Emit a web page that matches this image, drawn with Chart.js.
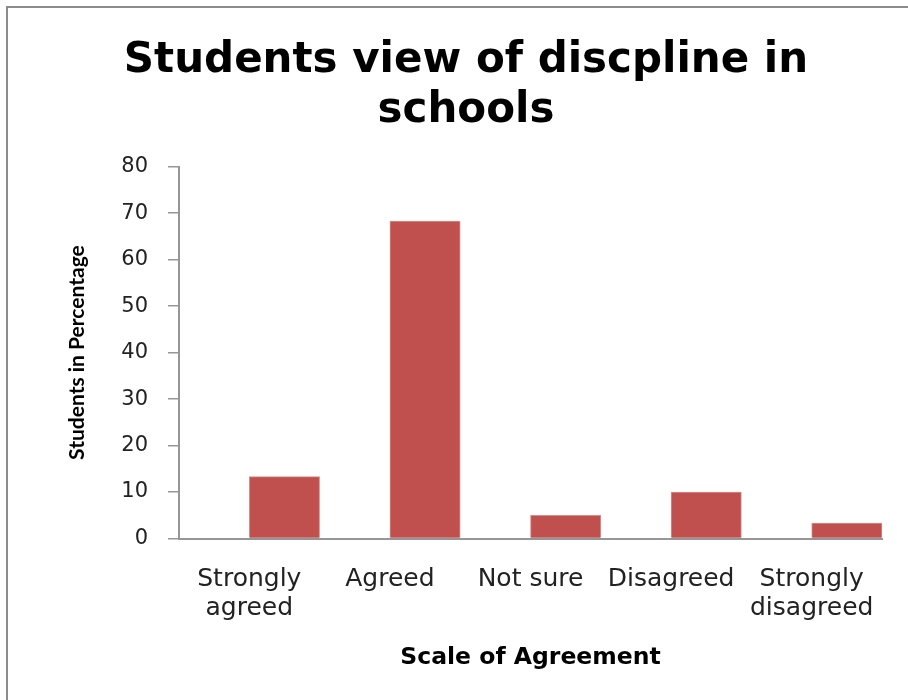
<!DOCTYPE html>
<html>
<head>
<meta charset="utf-8">
<title>Students view of discpline in schools</title>
<script src="https://cdn.jsdelivr.net/npm/chart.js@4.4.1/dist/chart.umd.min.js"></script>
<style>
    html, body { margin: 0; padding: 0; background: #fff; overflow: hidden; }
    #frame {
        position: absolute;
        left: 6px;
        top: 6px;
        border: 2px solid #8c8c8c;
        width: 916px;
        height: 720px;
    }
    #chart { display: block; }
</style>
</head>
<body>
<div id="frame">
    <canvas id="chart" width="916" height="720"></canvas>
</div>
<script>
// Dados
const categories = [
    ['Strongly', 'agreed'],
    'Agreed',
    'Not sure',
    ['Disagreed'],
    ['Strongly', 'disagreed']
];
const emptySeries = [null, null, null, null, null];
const percentValues = [13.3, 68.3, 5, 10, 3.3];
const yTicks = [0, 10, 20, 30, 40, 50, 60, 70, 80];

const axisGray = '#969696';
const textDark = '#222';

const ctx = document.getElementById('chart').getContext('2d');

new Chart(ctx, {
    type: 'bar',
    data: {
        labels: categories,
        datasets: [
            {
                label: 'Series 1',
                data: emptySeries,
                backgroundColor: '#4f81bd'
            },
            {
                label: 'Students in Percentage',
                data: percentValues,
                backgroundColor: '#c0504d',
                borderColor: '#d98e8c',
                borderWidth: 1
            }
        ]
    },
    options: {
        responsive: false,
        animation: false,
        layout: { padding: 0 },
        datasets: {
            bar: {
                categoryPercentage: 1.0,
                barPercentage: 1.0
            }
        },
        plugins: {
            legend: { display: false },
            tooltip: { enabled: false },
            title: {
                display: true,
                text: ['Students view of discpline in', 'schools'],
                color: '#000',
                font: { family: 'DejaVu Sans', size: 42, weight: 'bold', lineHeight: 1.19 },
                padding: { top: 28, bottom: 30.7 }
            }
        },
        scales: {
            x: {
                grid: { display: false, drawTicks: false },
                border: { display: true, color: axisGray, width: 2 },
                ticks: {
                    color: textDark,
                    font: { family: 'DejaVu Sans', size: 25, lineHeight: 1.16 },
                    padding: 26,
                    maxRotation: 0,
                    minRotation: 0,
                    autoSkip: false
                },
                title: {
                    display: true,
                    text: 'Scale of Agreement',
                    color: '#000',
                    font: { family: 'DejaVu Sans', size: 23.5, weight: 'bold', lineHeight: 1.2 },
                    padding: { top: 0, bottom: 56 }
                },
                afterFit: function(scale) {
                    scale.height = 189.5;
                }
            },
            y: {
                min: yTicks[0],
                max: yTicks[yTicks.length - 1],
                afterBuildTicks: function(scale) {
                    scale.ticks = yTicks.map(function(v) { return { value: v }; });
                },
                grid: {
                    drawOnChartArea: false,
                    drawTicks: true,
                    tickLength: 11,
                    color: axisGray,
                    lineWidth: 1.5
                },
                border: { display: true, color: axisGray, width: 2 },
                ticks: {
                    color: textDark,
                    font: { family: 'DejaVu Sans', size: 21 },
                    padding: 20
                },
                title: {
                    display: true,
                    text: 'Students in Percentage',
                    color: '#000',
                    font: { family: 'Lato', size: 21, weight: 'bold', lineHeight: 1.2 },
                    padding: { top: 57, bottom: 0 }
                },
                afterFit: function(scale) {
                    scale.width = 171;
                }
            },
            // eixo vazio à direita só para reservar espaço (título fica centrado)
            yRight: {
                type: 'linear',
                position: 'right',
                display: true,
                grid: { display: false, drawTicks: false },
                border: { display: false },
                ticks: { display: false },
                afterFit: function(scale) {
                    scale.width = 42;
                }
            }
        }
    }
});
</script>
</body>
</html>
